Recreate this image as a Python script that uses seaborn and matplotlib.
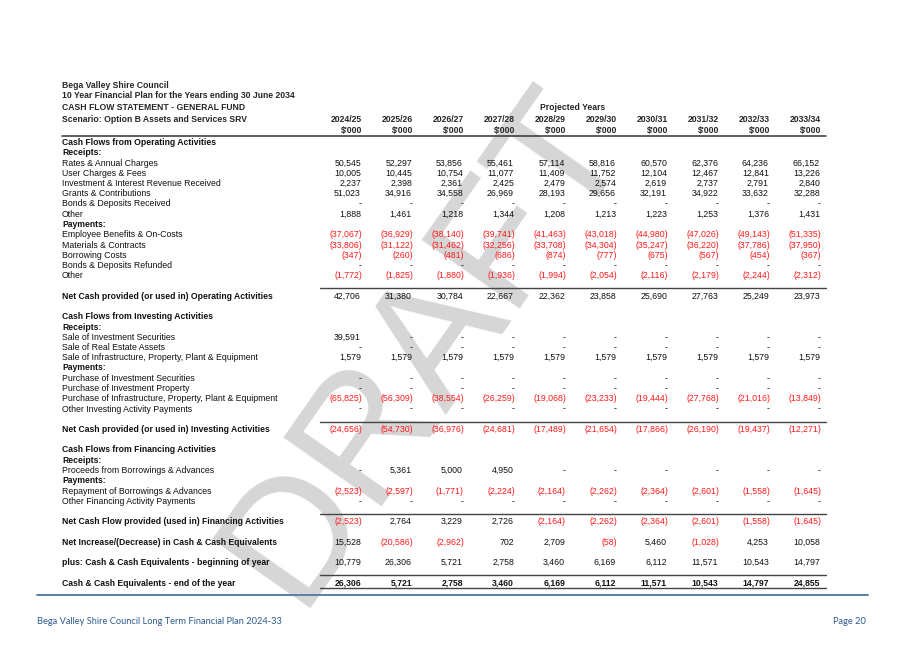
import matplotlib
matplotlib.use('Agg')
import matplotlib.pyplot as plt
import seaborn as sns

# column headers
years = ['2024/25', '2025/26', '2026/27', '2027/28', '2028/29',
         '2029/30', '2030/31', '2031/32', '2032/33', '2033/34']

# operating activities ($'000)
rates_annual_charges = [50545, 52297, 53856, 55461, 57114, 58816, 60570, 62376, 64236, 66152]
user_charges_fees = [10005, 10445, 10754, 11077, 11409, 11752, 12104, 12467, 12841, 13226]
investment_interest = [2237, 2398, 2361, 2425, 2479, 2574, 2619, 2737, 2791, 2840]
grants_contributions = [51023, 34916, 34558, 26969, 28193, 29656, 32191, 34922, 33632, 32288]
bonds_received = [0, 0, 0, 0, 0, 0, 0, 0, 0, 0]
other_receipts = [1888, 1461, 1218, 1344, 1208, 1213, 1223, 1253, 1376, 1431]
employee_benefits = [-37067, -36929, -38140, -39741, -41463, -43018, -44980, -47026, -49143, -51335]
materials_contracts = [-33806, -31122, -31462, -32256, -33708, -34304, -35247, -36220, -37786, -37950]
borrowing_costs = [-347, -260, -481, -686, -874, -777, -675, -567, -454, -367]
bonds_refunded = [0, 0, 0, 0, 0, 0, 0, 0, 0, 0]
other_payments = [-1772, -1825, -1880, -1936, -1994, -2054, -2116, -2179, -2244, -2312]
net_operating = [42706, 31380, 30784, 22667, 22362, 23858, 25690, 27763, 25249, 23973]

# investing activities
sale_investment_securities = [39591, 0, 0, 0, 0, 0, 0, 0, 0, 0]
sale_real_estate = [0, 0, 0, 0, 0, 0, 0, 0, 0, 0]
sale_infrastructure = [1579, 1579, 1579, 1579, 1579, 1579, 1579, 1579, 1579, 1579]
purchase_investment_securities = [0, 0, 0, 0, 0, 0, 0, 0, 0, 0]
purchase_investment_property = [0, 0, 0, 0, 0, 0, 0, 0, 0, 0]
purchase_infrastructure = [-65825, -56309, -38554, -26259, -19068, -23233, -19444, -27768, -21016, -13849]
other_investing_payments = [0, 0, 0, 0, 0, 0, 0, 0, 0, 0]
net_investing = [-24656, -54730, -36976, -24681, -17489, -21654, -17866, -26190, -19437, -12271]

# financing activities
proceeds_borrowings = [0, 5361, 5000, 4950, 0, 0, 0, 0, 0, 0]
repayment_borrowings = [-2523, -2597, -1771, -2224, -2164, -2262, -2364, -2601, -1558, -1645]
other_financing_payments = [0, 0, 0, 0, 0, 0, 0, 0, 0, 0]
net_financing = [-2523, 2764, 3229, 2726, -2164, -2262, -2364, -2601, -1558, -1645]

net_increase = [15528, -20586, -2962, 702, 2709, -58, 5460, -1028, 4253, 10058]
cash_beginning = [10779, 26306, 5721, 2758, 3460, 6169, 6112, 11571, 10543, 14797]
cash_end = [26306, 5721, 2758, 3460, 6169, 6112, 11571, 10543, 14797, 24855]

rows = [
    ('Cash Flows from Operating Activities', None, 'head'),
    ('Receipts:', None, 'head'),
    ('Rates & Annual Charges', rates_annual_charges, 'item'),
    ('User Charges & Fees', user_charges_fees, 'item'),
    ('Investment & Interest Revenue Received', investment_interest, 'item'),
    ('Grants & Contributions', grants_contributions, 'item'),
    ('Bonds & Deposits Received', bonds_received, 'item'),
    ('Other', other_receipts, 'item'),
    ('Payments:', None, 'head'),
    ('Employee Benefits & On-Costs', employee_benefits, 'item'),
    ('Materials & Contracts', materials_contracts, 'item'),
    ('Borrowing Costs', borrowing_costs, 'item'),
    ('Bonds & Deposits Refunded', bonds_refunded, 'item'),
    ('Other', other_payments, 'item'),
    (None, None, 'blank'),
    ('Net Cash provided (or used in) Operating Activities', net_operating, 'total'),
    (None, None, 'blank'),
    ('Cash Flows from Investing Activities', None, 'head'),
    ('Receipts:', None, 'head'),
    ('Sale of Investment Securities', sale_investment_securities, 'item'),
    ('Sale of Real Estate Assets', sale_real_estate, 'item'),
    ('Sale of Infrastructure, Property, Plant & Equipment', sale_infrastructure, 'item'),
    ('Payments:', None, 'head'),
    ('Purchase of Investment Securities', purchase_investment_securities, 'item'),
    ('Purchase of Investment Property', purchase_investment_property, 'item'),
    ('Purchase of Infrastructure, Property, Plant & Equipment', purchase_infrastructure, 'item'),
    ('Other Investing Activity Payments', other_investing_payments, 'item'),
    (None, None, 'blank'),
    ('Net Cash provided (or used in) Investing Activities', net_investing, 'total'),
    (None, None, 'blank'),
    ('Cash Flows from Financing Activities', None, 'head'),
    ('Receipts:', None, 'head'),
    ('Proceeds from Borrowings & Advances', proceeds_borrowings, 'item'),
    ('Payments:', None, 'head'),
    ('Repayment of Borrowings & Advances', repayment_borrowings, 'item'),
    ('Other Financing Activity Payments', other_financing_payments, 'item'),
    (None, None, 'blank'),
    ('Net Cash Flow provided (used in) Financing Activities', net_financing, 'total'),
    (None, None, 'blank'),
    ('Net Increase/(Decrease) in Cash & Cash Equivalents', net_increase, 'sum'),
    (None, None, 'blank'),
    ('plus: Cash & Cash Equivalents - beginning of year', cash_beginning, 'sum'),
    (None, None, 'blank'),
    ('Cash & Cash Equivalents - end of the year', cash_end, 'grand'),
]


def fmt(v):
    if v == 0:
        return '-'
    if v < 0:
        return '({:,})'.format(-v)
    return '{:,}'.format(v)


sns.set_theme(style='white')
plt.rcParams['font.family'] = ['Liberation Sans', 'DejaVu Sans']

fig = plt.figure(figsize=(9.17, 6.49), dpi=100)
ax = fig.add_axes([0, 0, 1, 1])
ax.set_xlim(0, 917)
ax.set_ylim(649, 0)
ax.axis('off')

fs = 6.3      # regular text
fs_b = 6.2    # bold text
x_label = 62
col_x = [362 + 51 * i for i in range(len(years))]
y0, pitch = 141.5, 10.25
red = '#ff1a1a'

# DRAFT watermark behind the table
ax.text(425, 345, 'DRAFT', rotation=55, fontsize=125, color='#d6d6d6',
        ha='center', va='center', zorder=0)

# titles
titles = ['Bega Valley Shire Council',
          '10 Year Financial Plan for the Years ending 30 June 2034',
          'CASH FLOW STATEMENT - GENERAL FUND',
          'Scenario: Option B Assets and Services SRV']
for t, y in zip(titles, [84, 95, 106, 118]):
    ax.text(x_label, y, t, fontsize=fs_b, fontweight='bold', va='center_baseline')
ax.text(573, 106, 'Projected Years', fontsize=fs_b, fontweight='bold',
        ha='center', va='center_baseline')
for x, yr in zip(col_x, years):
    ax.text(x, 118, yr, fontsize=fs_b, fontweight='bold', ha='right', va='center_baseline')
    ax.text(x, 129, "$'000", fontsize=fs_b, fontweight='bold', ha='right', va='center_baseline')
ax.plot([x_label, 826], [136, 136], color='#333333', lw=1.1)

for i, (label, vals, kind) in enumerate(rows):
    if kind == 'blank':
        continue
    y = y0 + i * pitch
    bold = kind in ('head', 'total', 'sum', 'grand')
    ax.text(x_label, y, label, fontsize=fs_b if bold else fs, va='center_baseline',
            fontweight='bold' if bold else 'normal', color='#111111')
    if vals is None:
        continue
    for x, v in zip(col_x, vals):
        ax.text(x if v < 0 else x - 1, y, fmt(v), fontsize=fs_b if kind == 'grand' else fs,
                ha='right', va='center_baseline', color=red if v < 0 else '#111111',
                fontweight='bold' if kind == 'grand' else 'normal')
    if kind in ('total', 'grand'):
        ax.plot([320, 826], [y - 7, y - 7], color='#444444', lw=1.0)
    if kind == 'grand':
        ax.plot([320, 826], [y + 6, y + 6], color='#444444', lw=1.0)

# page footer
ax.plot([37, 868], [595, 595], color='#5b7fa6', lw=1.4)
ax.text(37, 620, 'Bega Valley Shire Council Long Term Financial Plan 2024-33',
        fontsize=6.7, color='#2f5a8c', family='Lato', va='center_baseline')
ax.text(866, 620, 'Page 20', fontsize=6.7, color='#2f5a8c', family='Lato',
        ha='right', va='center_baseline')

fig.savefig('out.png', dpi=100)
